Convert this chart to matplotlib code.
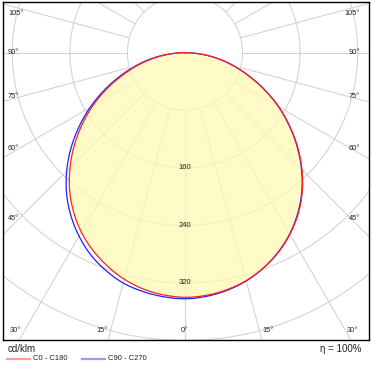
import numpy as np
import matplotlib
matplotlib.use('Agg')
import matplotlib.pyplot as plt
from matplotlib.lines import Line2D

plt.rcParams['font.family'] = ['Liberation Sans', 'DejaVu Sans']

# 数据: 光强 (cd/klm), gamma 角 0..90
gamma = [0, 5, 10, 15, 20, 25, 30, 35, 40, 45, 50, 55, 60, 65, 70, 75, 80, 85, 90]
c0 = [340, 338.5, 334.5, 328, 318.5, 306.5, 291.5, 274, 253.5, 230, 204.5, 177.5, 150.5, 122.5, 95, 70, 46, 22.5, 0]
c180 = [340, 338, 333.5, 326, 315.5, 303, 288, 270, 249.5, 226, 201, 175, 148.5, 121, 93.5, 68.5, 44.5, 21.5, 0]
c90 = [342, 340, 335.5, 328.5, 318.5, 306, 291, 273, 252.5, 229, 203.5, 177, 150, 122, 94.5, 69.5, 45.5, 22.5, 0]
c270 = [342, 340.5, 337, 331.5, 322, 310, 294.5, 276.5, 256, 232.5, 207, 180, 152.5, 124.5, 97, 71.5, 47, 23.5, 0]

ring_values = [80, 160, 240, 320, 400, 480]
ring_labels = [160, 240, 320]
grid_angles = [0, 15, 30, 45, 60, 75, 90, 105, 120, 135, 150, 165, 180]

# 角度标签 (文本, x像素, y像素, 对齐)
angle_text = [
    ('105°', 8, 13.5, 'left'), ('90°', 8, 52.5, 'left'), ('75°', 8, 97, 'left'),
    ('60°', 8, 148, 'left'), ('45°', 8, 218, 'left'), ('30°', 10, 330, 'left'),
    ('105°', 360, 13.5, 'right'), ('90°', 360, 52.5, 'right'), ('75°', 360, 97, 'right'),
    ('60°', 360, 148, 'right'), ('45°', 360, 218, 'right'), ('30°', 358, 330, 'right'),
    ('15°', 108, 330, 'right'), ('0°', 184.5, 330, 'center'), ('15°', 262, 330, 'left'),
]

W, H = 372, 371
fig = plt.figure(figsize=(W / 100, H / 100), dpi=100)
ax = fig.add_axes([3 / W, (H - 340) / H, 365.5 / W, 338 / H])

k = 0.7195  # 像素 / cd/klm
cx, cy = 185, 52.7
ax.set_xlim(-(cx - 3) / k, (368.5 - cx) / k)
ax.set_ylim(-(340 - cy) / k, (cy - 2) / k)
ax.set_xticks([])
ax.set_yticks([])
for s in ax.spines.values():
    s.set_linewidth(1.0)
    s.set_color('black')

# 网格: 同心圆和径向线
grid_color = '#d2d2d2'
t = np.linspace(0, 2 * np.pi, 400)
for r in ring_values:
    ax.plot(r * np.cos(t), r * np.sin(t), color=grid_color, lw=0.75, zorder=1)
for a in grid_angles:
    for sgn in (-1, 1):
        th = np.radians(a) * sgn
        ax.plot([80 * np.sin(th), 800 * np.sin(th)], [-80 * np.cos(th), -800 * np.cos(th)],
                color=grid_color, lw=0.75, zorder=1)


def curve(left, right, n=10):
    # 左半 (负角) + 右半, 用三次 Hermite 平滑连线
    ang = np.concatenate([-np.array(gamma[::-1], float), np.array(gamma[1:], float)])
    val = np.concatenate([np.array(left[::-1], float), np.array(right[1:], float)])
    m = np.gradient(val, ang)
    s = np.linspace(0, 1, n, endpoint=False)
    h00 = 2 * s**3 - 3 * s**2 + 1
    h10 = s**3 - 2 * s**2 + s
    h01 = -2 * s**3 + 3 * s**2
    h11 = s**3 - s**2
    aa, vv = [], []
    for i in range(len(ang) - 1):
        h = ang[i + 1] - ang[i]
        aa.append(ang[i] + s * h)
        vv.append(h00 * val[i] + h10 * h * m[i] + h01 * val[i + 1] + h11 * h * m[i + 1])
    aa.append([ang[-1]])
    vv.append([val[-1]])
    aa = np.radians(np.concatenate(aa))
    vv = np.clip(np.concatenate(vv), 0, None)
    return vv * np.sin(aa), -vv * np.cos(aa)


xr_, yr_ = curve(c180, c0)
xb_, yb_ = curve(c270, c90)
ax.fill(xr_, yr_, color='#fffab4', alpha=0.75, lw=0, zorder=2)
ax.plot(xb_, yb_, color='#2020ff', lw=0.9, zorder=3)
ax.plot(xr_, yr_, color='#ff2020', lw=0.9, zorder=3)

for v in ring_labels:
    ax.text(0, -v, str(v), ha='center', va='center', fontsize=5.5, color='#222222', zorder=4)

for txt, x, y, ha in angle_text:
    fig.text(x / W, 1 - y / H, txt, ha=ha, va='center', fontsize=5.3, color='#222222')

# 底部说明与图例
fig.text(8 / W, 1 - 349 / H, 'cd/klm', ha='left', va='center', fontsize=7, color='#222222')
fig.text(362 / W, 1 - 349 / H, 'η = 100%', ha='right', va='center', fontsize=7, color='#222222')
fig.add_artist(Line2D([7 / W, 30 / W], [1 - 359 / H] * 2, color='#ff9c9c', lw=1.6))
fig.text(33 / W, 1 - 359 / H, 'C0 - C180', ha='left', va='center', fontsize=5.5, color='#222222')
fig.add_artist(Line2D([82 / W, 105 / W], [1 - 359 / H] * 2, color='#9c9cff', lw=1.6))
fig.text(108 / W, 1 - 359 / H, 'C90 - C270', ha='left', va='center', fontsize=5.5, color='#222222')

fig.savefig('out.png', dpi=100)
